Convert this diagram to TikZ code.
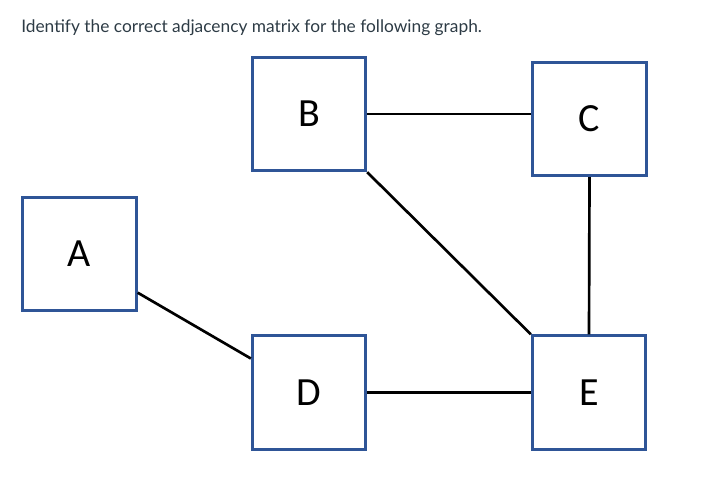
\documentclass[tikz,border=0pt]{standalone}
\usepackage{fontspec}
\setmainfont{Lato}
\newfontfamily\boxfont{Carlito}
\definecolor{boxblue}{HTML}{2F5597}
\definecolor{titlegray}{HTML}{2D3B45}
\tikzset{
	vertex/.style={draw=boxblue, line width=2.25pt, fill=white, minimum width=85pt, minimum height=85pt, inner sep=0pt, font=\boxfont\fontsize{30}{30}\selectfont},
	edge/.style={line width=2pt, black}
}
\begin{document}
\begin{tikzpicture}[x=0.75pt, y=-0.75pt]
			\useasboundingbox (0,0) rectangle (709,477);
			%question
			\node[anchor=base west, text=titlegray, font=\fontsize{13}{16}\selectfont, inner sep=0pt] (question) at (21, 33){Identify the correct adjacency matrix for the following graph.};
			%vertices
			\node[vertex] (A) at (79.5, 254){A};
			\node[vertex] (B) at (309, 114){B};
			\node[vertex] (C) at (589.5, 119){C};
			\node[vertex] (D) at (309, 392.5){D};
			\node[vertex] (E) at (589, 392.5){E};
			%edges
			\draw[edge] (B.east) -- (B.east -| C.west);
			\draw[edge] (B.south east) -- (E.north west);
			\draw[edge] (C.south) -- (E.north);
			\draw[edge] ([yshift=-29pt]A.east) -- ([yshift=25.5pt]D.west);
			\draw[edge] (D.east) -- (E.west);
		\end{tikzpicture}
\end{document}
